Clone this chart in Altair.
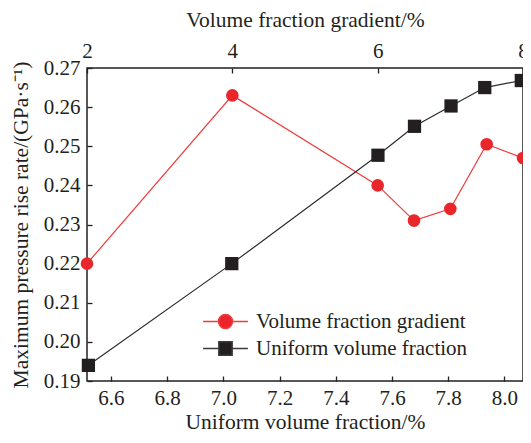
import altair as alt
import pandas as pd

# ---- data ----
series_names = ["Volume fraction gradient", "Uniform volume fraction"]
gradient = [2, 4, 6, 6.5, 7, 7.5, 8]
uniform = [6.52, 7.03, 7.55, 7.68, 7.81, 7.93, 8.06]
rate_gradient = [0.220, 0.263, 0.240, 0.231, 0.234, 0.2505, 0.247]
rate_uniform = [0.194, 0.220, 0.2477, 0.2551, 0.2603, 0.2650, 0.2668]
y_ticks = [0.19, 0.20, 0.21, 0.22, 0.23, 0.24, 0.25, 0.26, 0.27]
bottom_ticks = [6.6, 6.8, 7.0, 7.2, 7.4, 7.6, 7.8, 8.0]
top_ticks = [2, 4, 6, 8]

RED = "#e8262b"
RED_LINE = "#ee3b3b"
BLACK = "#231f20"
BLACK_LINE = "#2b2b2b"
FONT = "Liberation Serif"

df_g = pd.DataFrame({"x": gradient, "rate": rate_gradient, "series": series_names[0]})
df_u = pd.DataFrame({"x": uniform, "rate": rate_uniform, "series": series_names[1]})
df_leg = pd.DataFrame({"series": series_names})

common_axis = dict(
    offset=-5, tickSize=5, domain=False, grid=False,
    labelOverlap=False, labelFlush=False,
    labelFont=FONT, titleFont=FONT, labelFontSize=21, titleFontSize=21.5,
    titleFontWeight="normal", labelColor=BLACK, titleColor=BLACK,
    tickColor=BLACK, tickWidth=1.3,
)

y_enc = alt.Y(
    "rate:Q",
    scale=alt.Scale(domain=[0.19, 0.27], nice=False, zero=False),
    axis=alt.Axis(
        orient="left", values=y_ticks, format=".2f",
        title="Maximum pressure rise rate/(GPa·s⁻¹)",
        labelPadding=7, titlePadding=11, **common_axis,
    ),
)

x_top = alt.X(
    "x:Q",
    scale=alt.Scale(domain=[2, 8], nice=False, zero=False),
    axis=alt.Axis(
        orient="top", values=top_ticks, format="d",
        title="Volume fraction gradient/%",
        labelPadding=7, titlePadding=9, **common_axis,
    ),
)

x_bottom = alt.X(
    "x:Q",
    scale=alt.Scale(domain=[6.515, 8.066], nice=False, zero=False),
    axis=alt.Axis(
        orient="bottom", values=bottom_ticks, format=".1f",
        title="Uniform volume fraction/%",
        labelPadding=6, titlePadding=3, **common_axis,
    ),
)

red_line = alt.Chart(df_g).mark_line(color=RED_LINE, strokeWidth=1.2).encode(x=x_top, y=y_enc)
red_pts = alt.Chart(df_g).mark_point(
    shape="circle", filled=True, size=160, color=RED, opacity=1
).encode(x=x_top, y=y_enc)

black_line = alt.Chart(df_u).mark_line(color=BLACK_LINE, strokeWidth=1.2).encode(x=x_bottom, y=y_enc)
black_pts = alt.Chart(df_u).mark_point(
    shape="square", filled=True, size=176, color=BLACK, opacity=1
).encode(x=x_bottom, y=y_enc)

circle_path = "M-3.2,0L-1,0M1,0L3.2,0M-1,0A1,1,0,1,0,1,0A1,1,0,1,0,-1,0Z"
square_path = "M-3.2,0L-1,0M1,0L3.2,0M-0.95,-0.95L0.95,-0.95L0.95,0.95L-0.95,0.95Z"

leg = alt.Legend(
    orient="none", legendX=128, legendY=243, title=None,
    labelFont=FONT, labelFontSize=21, labelColor=BLACK, labelLimit=400,
    symbolSize=196, symbolStrokeWidth=1.5, labelOffset=20,
    rowPadding=5, padding=0, symbolOpacity=1,
)

legend_layer = alt.Chart(df_leg).mark_point(filled=True, size=196).encode(
    fill=alt.Fill("series:N", scale=alt.Scale(domain=series_names, range=[RED, BLACK]), legend=leg),
    stroke=alt.Stroke("series:N", scale=alt.Scale(domain=series_names, range=[RED_LINE, "#3a3a3a"]), legend=leg),
    shape=alt.Shape("series:N", scale=alt.Scale(domain=series_names, range=[circle_path, square_path]), legend=leg),
).transform_filter("false")

red_layer = alt.layer(red_line, red_pts)
black_layer = alt.layer(black_line, black_pts, legend_layer)

chart = alt.layer(red_layer, black_layer).resolve_scale(x="independent").properties(
    width=436, height=313,
    background="white",
    autosize=alt.AutoSizeParams(type="none"),
    padding={"left": 79, "top": 60, "right": 0, "bottom": 54},
).configure_view(
    stroke=BLACK, strokeWidth=1.5
)

chart.save("out.html", embed_options={"renderer": "svg", "actions": False})
